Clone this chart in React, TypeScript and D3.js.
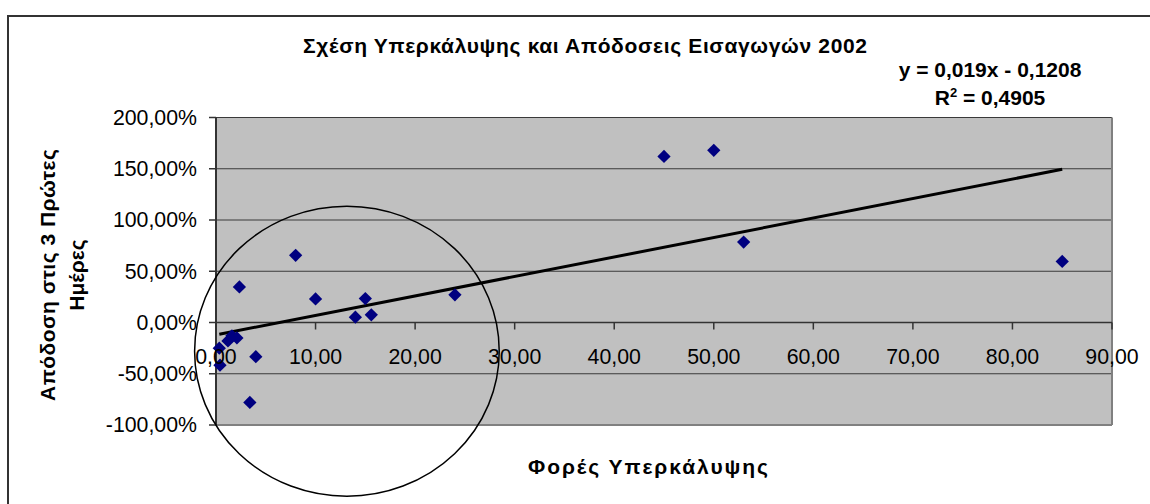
import React from "react";
import * as d3 from "d3";

// ---- data ----
const coverTimes = [0.33, 0.4, 1.2, 1.6, 2.1, 2.35, 3.4, 4.0, 8.0, 10.0, 14.0, 15.0, 15.6, 24.0, 45.0, 50.0, 53.0, 85.0];
const returnsPct = [-25, -41.6, -18, -13, -15, 34.7, -78, -33.4, 65.6, 23, 5.2, 23.4, 7.5, 27, 162, 168, 78.5, 59.6];
const trendSlope = 0.019;
const trendIntercept = -0.1208;
const xTicks = [0, 10, 20, 30, 40, 50, 60, 70, 80, 90];
const xTickLabels = ["0,00", "10,00", "20,00", "30,00", "40,00", "50,00", "60,00", "70,00", "80,00", "90,00"];
const yTicks = [-100, -50, 0, 50, 100, 150, 200];
const yTickLabels = ["-100,00%", "-50,00%", "0,00%", "50,00%", "100,00%", "150,00%", "200,00%"];
// circled annotation (data units: x, %)
const ellipseCenter = [13.15, -28];
const ellipseRadii = [15.3, 141.5];

const title = "Σχέση Υπερκάλυψης και Απόδοσεις Εισαγωγών 2002";
const xTitle = "Φορές Υπερκάλυψης";
const yTitleLines = ["Απόδοση στις 3 Πρώτες", "Ημέρες"];
const eqText = "y = 0,019x - 0,1208";

const W = 1150;
const H = 504;
const FONT = "Arial, 'Liberation Sans', sans-serif";
const FS = 21.3;

export default function App() {
  const x = d3.scaleLinear().domain([0, 90]).range([216, 1112]);
  const y = d3.scaleLinear().domain([-100, 200]).range([425, 117.5]);
  const [x0, x1] = x.range();
  const [yb, yt] = y.range();

  const xMin = d3.min(coverTimes) as number;
  const xMax = d3.max(coverTimes) as number;
  const trend = d3.line<number>()
    .x((d) => x(d))
    .y((d) => y((trendSlope * d + trendIntercept) * 100));

  const diamond = d3.symbol().type(d3.symbolSquare).size(88)() as string;

  const ecx = x(ellipseCenter[0]);
  const ecy = y(ellipseCenter[1]);
  const erx = x(ellipseCenter[0] + ellipseRadii[0]) - ecx;
  const ery = ecy - y(ellipseCenter[1] + ellipseRadii[1]);

  return (
    <svg
      width={W}
      height={H}
      style={{ position: "absolute", left: 0, top: 0, display: "block", background: "#fff" }}
      fontFamily={FONT}
    >
      {/* outer chart frame */}
      <rect x={8} y={16} width={W + 20} height={H + 20} fill="none" stroke="#333" strokeWidth={2} />

      {/* plot area */}
      <rect x={x0} y={yt} width={x1 - x0} height={yb - yt} fill="#C0C0C0" />
      {/* gridlines */}
      {yTicks.map((t) => (
        <line key={"g" + t} x1={x0} x2={x1} y1={y(t)} y2={y(t)} stroke="#3a3a3a" strokeWidth={1} />
      ))}
      {/* right & bottom border */}
      <line x1={x1} x2={x1} y1={yt} y2={yb} stroke="#808080" strokeWidth={2} />
      <line x1={x0} x2={x1} y1={yb} y2={yb} stroke="#808080" strokeWidth={2} />

      {/* y axis */}
      <line x1={x0} x2={x0} y1={yt - 0.5} y2={yb} stroke="#333" strokeWidth={2} />
      {yTicks.map((t) => (
        <line key={"yt" + t} x1={x0 - 7} x2={x0} y1={y(t)} y2={y(t)} stroke="#333" strokeWidth={1.5} />
      ))}
      {/* x axis at 0 */}
      <line x1={x0} x2={x1} y1={y(0)} y2={y(0)} stroke="#333" strokeWidth={1.5} />
      {xTicks.map((t) => (
        <line key={"xt" + t} x1={x(t)} x2={x(t)} y1={y(0)} y2={y(0) + 7} stroke="#333" strokeWidth={1.5} />
      ))}

      {/* trendline */}
      <path d={trend([xMin, xMax]) as string} fill="none" stroke="#000" strokeWidth={3} />

      {/* points */}
      {coverTimes.map((v, i) => (
        <path
          key={"p" + i}
          d={diamond}
          transform={`translate(${x(v)},${y(returnsPct[i])}) rotate(45)`}
          fill="#000080"
        />
      ))}

      {/* ellipse annotation */}
      <ellipse cx={ecx} cy={ecy} rx={erx} ry={ery} fill="none" stroke="#000" strokeWidth={1.5} />

      {/* tick labels */}
      {yTicks.map((t, i) => (
        <text key={"yl" + t} x={197} y={y(t)} dy="0.35em" textAnchor="end" fontSize={FS} fill="#000">
          {yTickLabels[i]}
        </text>
      ))}
      {xTicks.map((t, i) => (
        <text key={"xl" + t} x={x(t)} y={y(0) + 41} textAnchor="middle" fontSize={FS} fill="#000">
          {xTickLabels[i]}
        </text>
      ))}

      {/* titles */}
      <text x={585} y={53} textAnchor="middle" fontSize={21} fontWeight="bold" textLength={564} lengthAdjust="spacing">
        {title}
      </text>
      <text x={990} y={77} textAnchor="middle" fontSize={21} fontWeight="bold">
        {eqText}
      </text>
      <text x={990} y={105} textAnchor="middle" fontSize={21} fontWeight="bold">
        R<tspan fontSize={13} dy={-8}>2</tspan>
        <tspan dy={8}> = 0,4905</tspan>
      </text>
      <text x={648} y={474} textAnchor="middle" fontSize={21} fontWeight="bold" textLength={240} lengthAdjust="spacing">
        {xTitle}
      </text>
      <g transform="translate(0,275) rotate(-90)">
        <text x={0} y={55} textAnchor="middle" fontSize={21} fontWeight="bold" textLength={252} lengthAdjust="spacing">
          {yTitleLines[0]}
        </text>
        <text x={0} y={84} textAnchor="middle" fontSize={21} fontWeight="bold">
          {yTitleLines[1]}
        </text>
      </g>
    </svg>
  );
}
